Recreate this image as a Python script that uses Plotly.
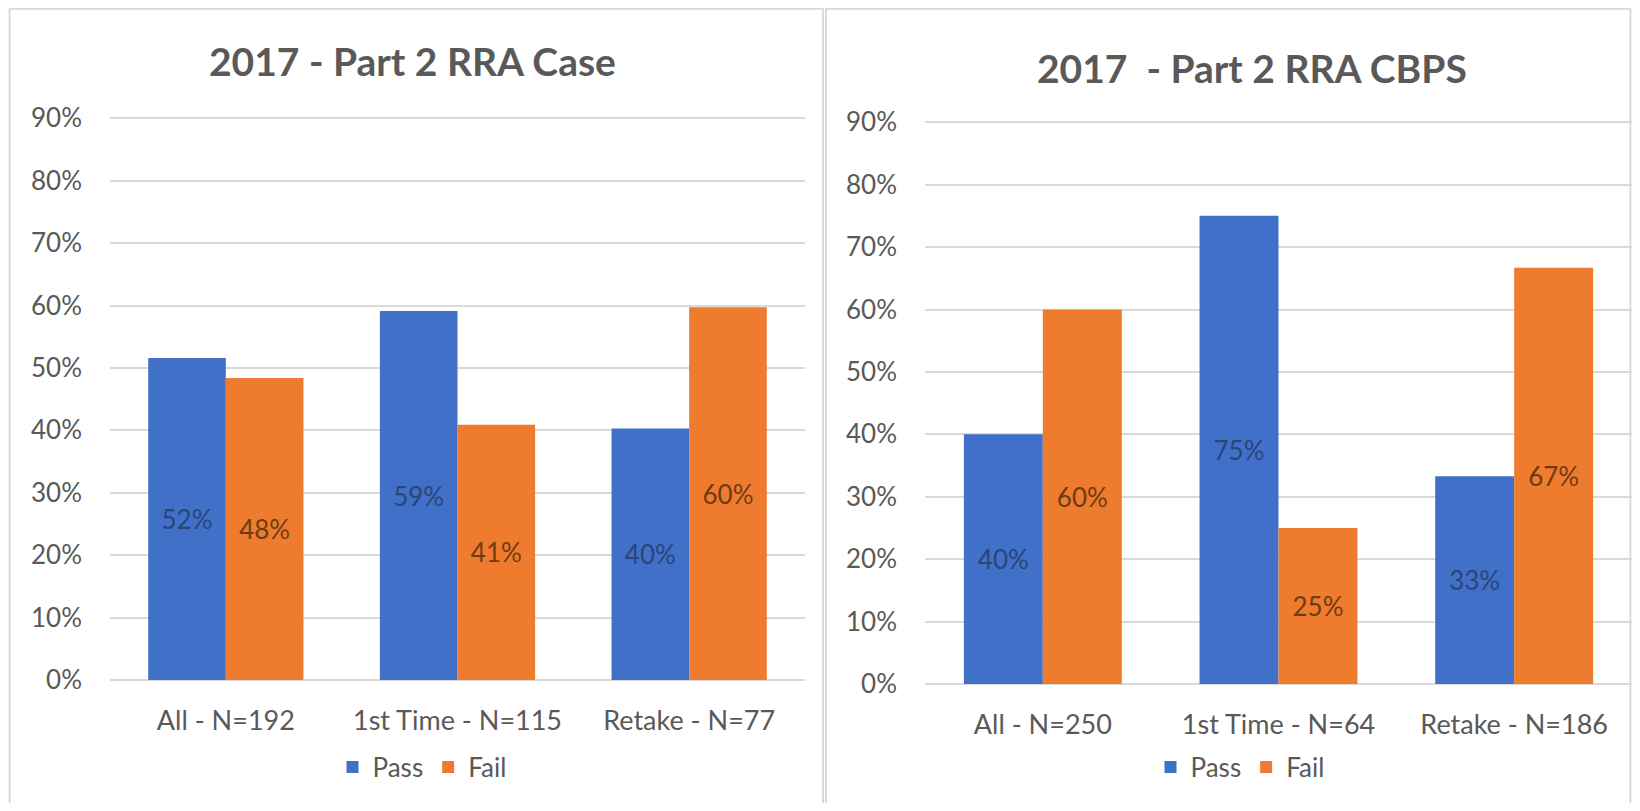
import plotly.graph_objects as go

# data
CASE_CATS = ["All - N=192", "1st Time - N=115", "Retake - N=77"]
CASE_PASS = [0.516, 0.591, 0.403]
CASE_FAIL = [0.484, 0.409, 0.597]

CBPS_CATS = ["All - N=250", "1st Time - N=64", "Retake - N=186"]
CBPS_PASS = [0.40, 0.75, 0.333]
CBPS_FAIL = [0.60, 0.25, 0.667]

Y_TICKS = [0, 0.1, 0.2, 0.3, 0.4, 0.5, 0.6, 0.7, 0.8, 0.9]

TITLE_CASE = "2017 - Part 2 RRA Case"
TITLE_CBPS = "2017 \u00a0- Part 2 RRA CBPS"

BLUE = "#4070c8"
ORANGE = "#ef7b2e"
BLUE_TXT = "#2b4577"
ORANGE_TXT = "#6e3c12"
GREY_TXT = "#595959"
GRID = "#d9d9d9"
FONT = "Lato, Carlito, sans-serif"

# page body has an 8px margin, so the figure sits at (8, 8) on screen
OFF = 8
W, H = 1640 - 2 * OFF, 811 - 2 * OFF


def px_x(v):
    return (v - OFF) / W


def px_y(v):
    return 1 - (v - OFF) / H


fig = go.Figure()

for cats, passes, fails, xa, ya, leg in [
    (CASE_CATS, CASE_PASS, CASE_FAIL, "x", "y", "legend"),
    (CBPS_CATS, CBPS_PASS, CBPS_FAIL, "x2", "y2", "legend2"),
]:
    fig.add_trace(go.Bar(
        x=cats, y=passes, name="Pass", xaxis=xa, yaxis=ya, legend=leg,
        marker=dict(color=BLUE, line=dict(width=0)),
        text=[f"{v:.0%}" for v in passes], texttemplate="%{text}",
        textposition="inside", insidetextanchor="middle",
        textfont=dict(family=FONT, size=26, color=BLUE_TXT),
        textangle=0))
    fig.add_trace(go.Bar(
        x=cats, y=fails, name="Fail", xaxis=xa, yaxis=ya, legend=leg,
        marker=dict(color=ORANGE, line=dict(width=0)),
        text=[f"{v:.0%}" for v in fails], texttemplate="%{text}",
        textposition="inside", insidetextanchor="middle",
        textfont=dict(family=FONT, size=26, color=ORANGE_TXT),
        textangle=0))

yax = dict(range=[0, 0.902], tickvals=Y_TICKS, tickformat=".0%",
           showgrid=True, gridcolor=GRID, gridwidth=2,
           zeroline=True, zerolinecolor=GRID, zerolinewidth=2,
           showline=False, ticks="", ticklabelstandoff=27, automargin=False,
           tickfont=dict(family=FONT, size=26, color=GREY_TXT))
xax = dict(showgrid=False, showline=False, ticks="", ticklabelstandoff=22,
           automargin=False,
           tickfont=dict(family=FONT, size=27, color=GREY_TXT))

leg_style = dict(orientation="h", xanchor="center", yanchor="middle",
                 font=dict(family=FONT, size=26, color=GREY_TXT),
                 itemwidth=30, tracegroupgap=0, bgcolor="rgba(0,0,0,0)")

fig.update_layout(
    width=W, height=H,
    margin=dict(l=0, r=0, t=0, b=0, autoexpand=False),
    paper_bgcolor="white", plot_bgcolor="white",
    barmode="group", bargap=0.33, bargroupgap=0,
    xaxis=dict(domain=[px_x(110), px_x(805)], anchor="y", **xax),
    yaxis=dict(domain=[px_y(680), px_y(117)], anchor="x", **yax),
    xaxis2=dict(domain=[px_x(925), px_x(1632)], anchor="y2", **xax),
    yaxis2=dict(domain=[px_y(684), px_y(121)], anchor="x2", **yax),
    legend=dict(x=px_x(422), y=px_y(767), **leg_style),
    legend2=dict(x=px_x(1240), y=px_y(767), **leg_style),
    shapes=[
        dict(type="rect", xref="paper", yref="paper",
             x0=0.001, x1=px_x(823), y0=-0.02, y1=0.999,
             line=dict(color="#d9d9d9", width=2), layer="below"),
        dict(type="rect", xref="paper", yref="paper",
             x0=px_x(826), x1=0.999, y0=-0.02, y1=0.999,
             line=dict(color="#d9d9d9", width=2), layer="below"),
    ],
    annotations=[
        dict(text=f"<b>{TITLE_CASE}</b>", xref="paper", yref="paper",
             x=px_x(412), y=px_y(61), xanchor="center", yanchor="middle",
             showarrow=False, font=dict(family=FONT, size=39, color=GREY_TXT)),
        dict(text=f"<b>{TITLE_CBPS}</b>", xref="paper", yref="paper",
             x=px_x(1252), y=px_y(68), xanchor="center", yanchor="middle",
             showarrow=False, font=dict(family=FONT, size=39, color=GREY_TXT)),
    ],
)

fig.write_html("out.html")
